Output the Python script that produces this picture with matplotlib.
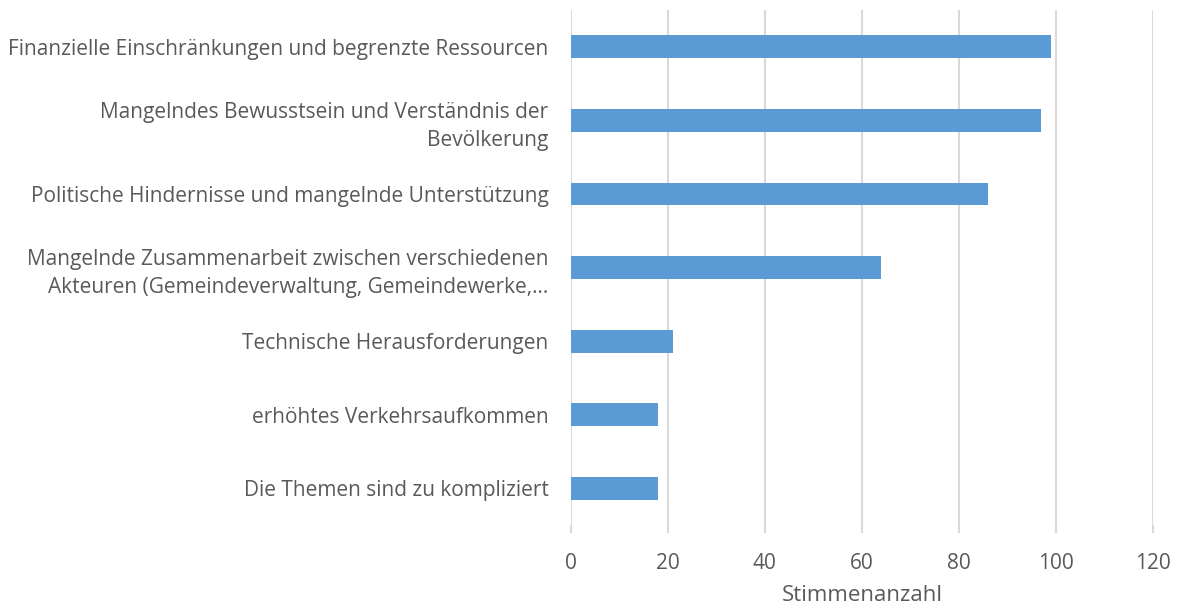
import matplotlib.pyplot as plt

# categories top to bottom
labels = [
    "Finanzielle Einschränkungen und begrenzte Ressourcen",
    "Mangelndes Bewusstsein und Verständnis der\nBevölkerung",
    "Politische Hindernisse und mangelnde Unterstützung",
    "Mangelnde Zusammenarbeit zwischen verschiedenen\nAkteuren (Gemeindeverwaltung, Gemeindewerke,…",
    "Technische Herausforderungen",
    "erhöhtes Verkehrsaufkommen",
    "Die Themen sind zu kompliziert",
]
votes = [99, 97, 86, 64, 21, 18, 18]
xticks = [0, 20, 40, 60, 80, 100, 120]

plt.rcParams['font.family'] = ['Open Sans', 'DejaVu Sans']
grey = '#595959'

fig = plt.figure(figsize=(11.77, 6.07), dpi=100)
ax = fig.add_axes([0.485, 0.135, 0.4946, 0.8485])

pos = list(range(len(labels)))
ax.barh(pos, votes, height=0.31, color='#5B9BD5', zorder=3)

ax.set_ylim(len(labels) - 0.5, -0.5)
ax.set_xlim(0, 120)
ax.set_xticks(xticks)
ax.set_yticks(pos)
ax.set_yticklabels(labels, fontsize=15, color=grey, linespacing=1.45)

ax.grid(axis='x', color='#d9d9d9', linewidth=1.5, zorder=0)
for s in ax.spines.values():
    s.set_visible(False)
ax.tick_params(axis='y', length=0, pad=16)
ax.tick_params(axis='x', length=6, color='#d9d9d9', width=1.5, labelsize=15,
               labelcolor=grey, pad=14)
ax.set_xlabel("Stimmenanzahl", fontsize=16, color=grey, labelpad=8)

fig.savefig("out.png", dpi=100)
